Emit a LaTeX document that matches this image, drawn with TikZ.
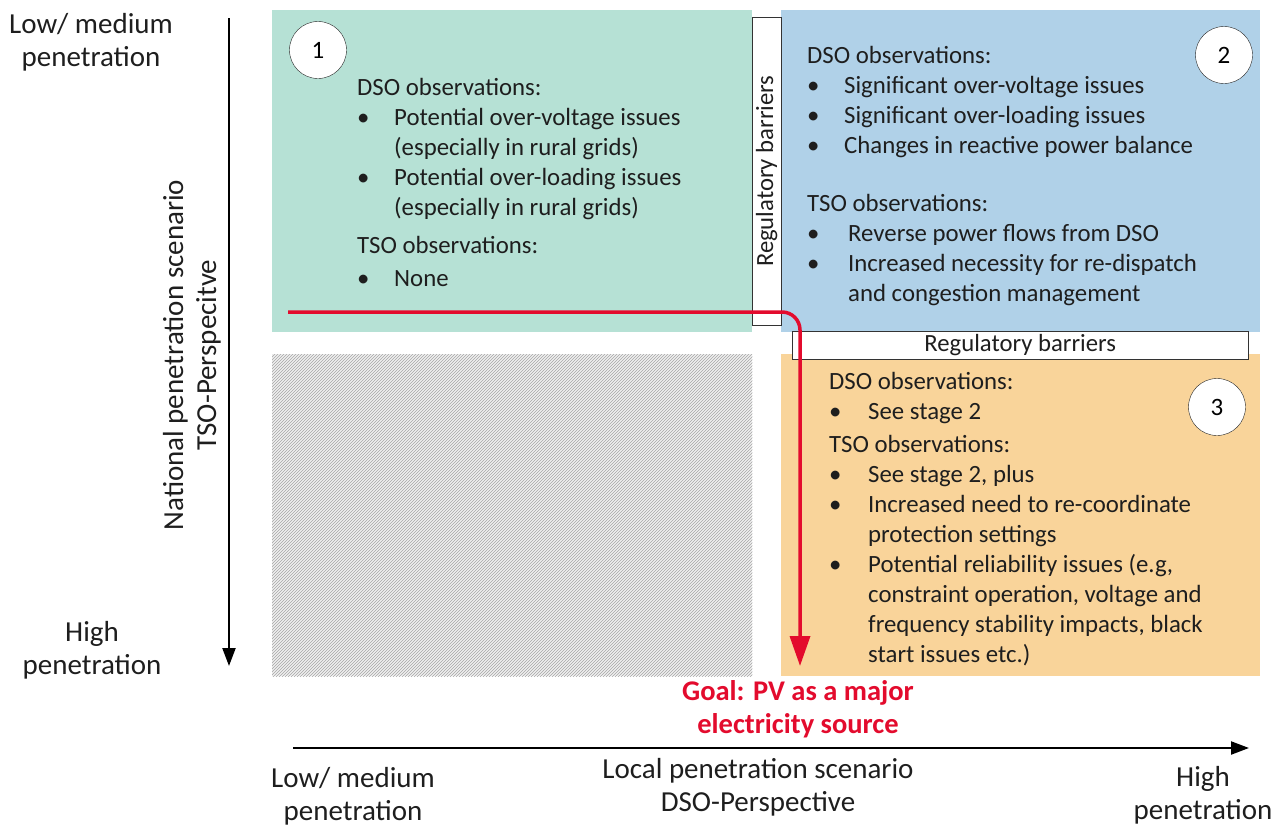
\documentclass[tikz,border=0pt]{standalone}
\usepackage{fontspec}
\setmainfont{Carlito}
\usepackage{tikz}
\usetikzlibrary{patterns,arrows.meta,positioning}

\definecolor{stageone}{RGB}{182,225,213}
\definecolor{stagetwo}{RGB}{176,209,232}
\definecolor{stagethree}{RGB}{249,212,154}
\definecolor{goalred}{RGB}{227,11,45}
\definecolor{txt}{RGB}{30,30,30}

\newcommand{\bul}{\makebox[37pt][l]{\textbullet}}
\newcommand{\ind}{\hspace*{37pt}}

\tikzset{
  obs/.style={anchor=base west,inner sep=0pt,text=txt,font=\fontsize{24.8}{30}\selectfont},
  stagebox/.style={draw=none,minimum width=480pt,minimum height=322pt,inner sep=0pt,anchor=north west},
  barrier/.style={draw=black!80,fill=white,thin,inner sep=0pt,font=\fontsize{24.7}{28}\selectfont,text=txt},
  stagenum/.style={circle,draw=black!85,fill=white,minimum size=57pt,inner sep=0pt,font=\fontsize{25}{28}\selectfont},
  axislabel/.style={align=center,text=txt,font=\fontsize{29}{33}\selectfont,inner sep=0pt},
  axis/.style={line width=2.2pt,-{Triangle[length=18pt,width=13pt]}}
}

\begin{document}
\begin{tikzpicture}[x=1pt,y=-1pt]
\useasboundingbox (0,0) rectangle (1277,827);
% quadrants
\node[stagebox,fill=stageone] (box1) at (272,10) {};
\node[stagebox,fill=stagetwo,minimum width=479pt] (box2) at (781,10) {};
\node[stagebox,fill=stagethree,minimum width=479pt] (box3) at (781,354) {};
\node[stagebox,fill=gray!12] (box4) at (272,354) {};
\path[pattern=north east lines,pattern color=gray!70] (box4.north west) rectangle (box4.south east);

% barriers
\node[barrier,minimum width=29pt,minimum height=308pt,anchor=north west] (bar1) at (752,17) {};
\node[rotate=90,font=\fontsize{24.7}{28}\selectfont,text=txt] (bar1text) at (bar1.center) {Regulatory barriers};
\node[barrier,minimum width=456pt,minimum height=28pt,anchor=north west] (bar2) at (792,331) {Regulatory barriers};

% stage numbers
\node[stagenum] (n1) at (318,50) {1};
\node[stagenum] (n2) at (1224,55) {2};
\node[stagenum] (n3) at (1217,407) {3};

% stage 1
\node[obs] (dso1) at (357,95) {\begin{tabular}[t]{@{}l@{}}
DSO observations:\\
\bul Potential over-voltage issues\\
\ind (especially in rural grids)\\
\bul Potential over-loading issues\\
\ind (especially in rural grids)
\end{tabular}};
\node[obs] (tso1) at (357,253) {\begin{tabular}[t]{@{}l@{}}
TSO observations:\\[3pt]
\bul None
\end{tabular}};

% stage 2
\node[obs] (dso2) at (807,63) {\begin{tabular}[t]{@{}l@{}}
DSO observations:\\
\bul Significant over-voltage issues\\
\bul Significant over-loading issues\\
\bul Changes in reactive power balance
\end{tabular}};
\node[obs] (tso2) at (807,211) {\begin{tabular}[t]{@{}l@{}}
TSO observations:\\
\bul\hspace{4pt}Reverse power flows from DSO\\
\bul\hspace{4pt}Increased necessity for re-dispatch\\
\ind\hspace{4pt}and congestion management
\end{tabular}};

% stage 3
\node[obs] (dso3) at (829,389) {\begin{tabular}[t]{@{}l@{}}
DSO observations:\\
\bul\hspace{2pt}See stage 2
\end{tabular}};
\node[obs] (tso3) at (829,452) {\begin{tabular}[t]{@{}l@{}}
TSO observations:\\
\bul\hspace{2pt}See stage 2, plus\\
\bul\hspace{2pt}Increased need to re-coordinate\\
\ind\hspace{2pt}protection settings\\
\bul\hspace{2pt}Potential reliability issues (e.g,\\
\ind\hspace{2pt}constraint operation, voltage and\\
\ind\hspace{2pt}frequency stability impacts, black\\
\ind\hspace{2pt}start issues etc.)
\end{tabular}};

% axes
\coordinate (ytop) at (229,18);
\coordinate (ybot) at (229,666);
\coordinate (xleft) at (293,748);
\coordinate (xright) at (1249,748);
\draw[axis] (ytop) -- (ybot);
\draw[axis] (xleft) -- (xright);

\node[axislabel] (ylow) at (91,42) {Low/ medium\\penetration};
\node[axislabel] (yhigh) at (92,650) {High\\penetration};
\node[axislabel,rotate=90] (ytitle) at (192,355) {National penetration scenario\\TSO-Perspecitve};
\node[axislabel] (xlow) at (353,796) {Low/ medium\\penetration};
\node[axislabel] (xtitle) at (758,787) {Local penetration scenario\\DSO-Perspective};
\node[axislabel] (xhigh) at (1203,795) {High\\penetration};

% path to goal
\coordinate (start) at (288,312);
\coordinate (bend) at (800,312);
\coordinate (tip) at (800,666);
\draw[goalred,line width=3.5pt,rounded corners=18pt,-{Triangle[length=30pt,width=20pt]}] (start) -- (bend) -- (tip);
\node[axislabel,text=goalred,font=\bfseries\fontsize{28.5}{33}\selectfont] (goal) at (798,709) {Goal: PV as a major\\electricity source};
\end{tikzpicture}
\end{document}
